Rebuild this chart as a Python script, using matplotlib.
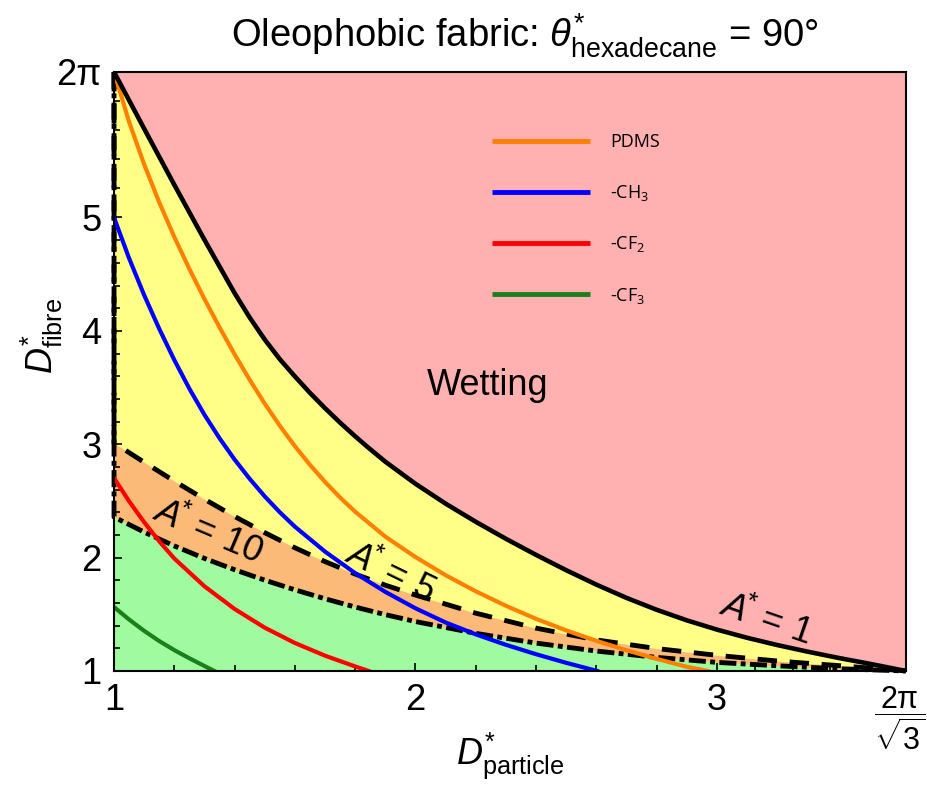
import numpy as np
import matplotlib.pyplot as plt

plt.rcParams['font.family'] = ['Liberation Sans', 'DejaVu Sans']
plt.rcParams['mathtext.fontset'] = 'custom'
plt.rcParams['mathtext.rm'] = 'Liberation Sans'
plt.rcParams['mathtext.it'] = 'Liberation Sans:italic'
plt.rcParams['mathtext.bf'] = 'Liberation Sans:bold'

X_MAX = 2 * np.pi / np.sqrt(3)
Y_MAX = 2 * np.pi

# A* = 1 boundary (wetting limit)
a1_x = [1.0, 1.1, 1.2, 1.3, 1.4, 1.45, 1.5, 1.55, 1.6, 1.65, 1.7, 1.75, 1.8, 1.84, 1.9,
        2.0, 2.1, 2.2, 2.3, 2.4, 2.5, 2.6, 2.7, 2.8, 2.9, 3.0, 3.1, 3.2, 3.3, 3.4, 3.5, X_MAX]
a1_y = [Y_MAX, 5.783, 5.288, 4.803, 4.333, 4.118, 3.923, 3.75, 3.598, 3.453, 3.318, 3.19,
        3.07, 2.978, 2.846, 2.651, 2.476, 2.316, 2.166, 2.024, 1.889, 1.762, 1.645, 1.54,
        1.447, 1.365, 1.293, 1.229, 1.171, 1.117, 1.067, 1.0]

# A* = 5 (dashed)
a5_x = [1.0, 1.0, 1.1, 1.2, 1.3, 1.4, 1.5, 1.6, 1.7, 1.8, 1.9, 2.0, 2.2, 2.4, 2.6, 2.8,
        3.0, 3.2, 3.4, X_MAX]
a5_y = [Y_MAX, 3.011, 2.841, 2.675, 2.515, 2.363, 2.22, 2.087, 1.965, 1.855, 1.757, 1.67,
        1.51, 1.378, 1.274, 1.198, 1.138, 1.088, 1.048, 1.0]

# A* = 10 (dash-dot)
a10_x = [1.0, 1.0, 1.1, 1.2, 1.3, 1.4, 1.5, 1.6, 1.7, 1.8, 1.9, 2.0, 2.2, 2.4, 2.6, 2.8,
         3.0, 3.2, 3.4, X_MAX]
a10_y = [Y_MAX, 2.358, 2.225, 2.103, 1.993, 1.893, 1.801, 1.716, 1.637, 1.564, 1.497,
         1.436, 1.332, 1.246, 1.176, 1.12, 1.076, 1.046, 1.02, 1.0]

pdms_x = [1.0, 1.05, 1.1, 1.15, 1.2, 1.25, 1.3, 1.35, 1.4, 1.45, 1.5, 1.55, 1.6, 1.65,
          1.7, 1.75, 1.8, 1.9, 2.0, 2.1, 2.2, 2.3, 2.4, 2.5, 2.6, 2.7, 2.8, 2.9, 2.97]
pdms_y = [Y_MAX, 5.843, 5.468, 5.133, 4.828, 4.546, 4.281, 4.031, 3.793, 3.568, 3.358,
          3.163, 2.983, 2.818, 2.668, 2.53, 2.405, 2.185, 2.005, 1.845, 1.703, 1.575,
          1.46, 1.358, 1.266, 1.183, 1.107, 1.037, 1.0]

ch3_x = [1.0, 1.05, 1.1, 1.15, 1.2, 1.25, 1.3, 1.35, 1.4, 1.45, 1.5, 1.55, 1.6, 1.7,
         1.8, 1.9, 2.0, 2.1, 2.2, 2.3, 2.4, 2.5, 2.603]
ch3_y = [5.0, 4.64, 4.315, 4.018, 3.743, 3.49, 3.26, 3.053, 2.865, 2.695, 2.54, 2.4,
         2.273, 2.053, 1.863, 1.698, 1.553, 1.428, 1.323, 1.231, 1.148, 1.072, 1.0]

cf2_x = [1.0, 1.05, 1.1, 1.15, 1.2, 1.3, 1.4, 1.5, 1.6, 1.7, 1.8, 1.845]
cf2_y = [2.702, 2.497, 2.312, 2.144, 1.992, 1.747, 1.547, 1.382, 1.247, 1.135, 1.04, 1.0]

cf3_x = [1.0, 1.05, 1.1, 1.15, 1.2, 1.25, 1.3, 1.333]
cf3_y = [1.564, 1.454, 1.354, 1.264, 1.184, 1.112, 1.044, 1.0]

series = [(pdms_x, pdms_y, '#FF8000', 'PDMS'),
          (ch3_x, ch3_y, '#0000FF', r'-CH$\mathregular{_3}$'),
          (cf2_x, cf2_y, '#FF0000', r'-CF$\mathregular{_2}$'),
          (cf3_x, cf3_y, '#1A801A', r'-CF$\mathregular{_3}$')]

STAR = r'^{\mathregular{*}}'
A_STAR = r'$A^{\hspace{-0.3}\mathregular{*}}$'

fig = plt.figure(figsize=(9.27, 7.92), dpi=100)
ax = fig.add_axes([0.123, 0.1528, 0.8544, 0.7563])

ax.set_facecolor('#FFB0B0')
ax.fill_between(a1_x, 1, a1_y, color='#FFFF88', lw=0, zorder=1)
ax.fill_between(a5_x, 1, a5_y, color='#FCBA78', lw=0, zorder=1)
ax.fill_between(a10_x, 1, a10_y, color='#A0FBA0', lw=0, zorder=1)

ax.plot(a5_x, a5_y, color='k', lw=3.5, dashes=(4, 2.6), zorder=2, clip_on=False)
ax.plot(a10_x, a10_y, color='k', lw=3.5, dashes=(3.5, 0.9, 1.0, 0.9), zorder=2,
        clip_on=False)
for xs, ys, c, name in series:
    ax.plot(xs, ys, color=c, lw=3, zorder=3)
ax.plot(a1_x, a1_y, color='k', lw=3.3, zorder=4)

# legend drawn by hand
rows = [0.885, 0.800, 0.7145, 0.629]
for (xs, ys, c, name), r in zip(series, rows):
    ax.plot([0.477, 0.601], [r, r], color=c, lw=3.5, transform=ax.transAxes,
            solid_capstyle='butt', zorder=5)
    ax.text(0.626, r - 0.0105, name, transform=ax.transAxes, va='baseline',
            fontsize=13, family='Open Sans', zorder=5)

ax.text(2.241, 3.522, 'Wetting', fontsize=26, ha='center', va='center')
ax.text(1.309, 2.226, A_STAR + ' = 10', fontsize=26, rotation=-23,
        ha='center', va='center', rotation_mode='anchor')
ax.text(1.916, 1.864, A_STAR + ' = 5', fontsize=26, rotation=-26,
        ha='center', va='center', rotation_mode='anchor')
ax.text(3.160, 1.45, A_STAR + ' = 1', fontsize=26, rotation=-19,
        ha='center', va='center', rotation_mode='anchor')

ax.set_xlim(1, X_MAX)
ax.set_ylim(1, Y_MAX)
ax.set_xticks([1, 2, 3, X_MAX])
ax.set_xticklabels(['1', '2', '3', ''])
# last x tick label drawn by hand so it stays inside the figure
ax.text(X_MAX - 0.02, -0.022, r'$\dfrac{2\mathrm{\pi}}{\sqrt{3}}$', fontsize=22,
        ha='center', va='top', transform=ax.get_xaxis_transform())
ax.set_yticks([1, 2, 3, 4, 5, Y_MAX])
ax.set_yticklabels(['1', '2', '3', '4', '5', '2π'])
xminor = [v for v in np.arange(1.2, 3.0, 0.2) if abs(v - 2) > 1e-6]
xminor += list(np.linspace(3, X_MAX, 6)[1:-1])
yminor = [v for v in np.arange(1.2, 5.0, 0.2) if abs(v - round(v)) > 1e-6]
yminor += list(np.linspace(5, Y_MAX, 6)[1:-1])
ax.set_xticks(xminor, minor=True)
ax.set_yticks(yminor, minor=True)
ax.tick_params(which='both', direction='in', top=False, right=False,
               labelsize=26, width=1.2)
ax.tick_params(which='major', length=6, pad=9)
ax.tick_params(which='minor', length=4.5)
for s in ax.spines.values():
    s.set_linewidth(1.5)
    s.set_zorder(6)

ax.set_xlabel('$D' + STAR + r'_{\mathrm{particle}}$', fontsize=26)
ax.set_ylabel('$D' + STAR + r'_{\mathrm{fibre}}$', fontsize=26)
ax.xaxis.set_label_coords(0.5, -0.1)
ax.yaxis.set_label_coords(-0.062, 0.56)

fig.text(525 / 927, 1 - 47 / 792,
         r'Oleophobic fabric: $\theta' + STAR + r'_{\mathrm{hexadecane}}$ = 90°',
         fontsize=27.5, ha='center', va='baseline')

fig.savefig('out.png', dpi=100)
